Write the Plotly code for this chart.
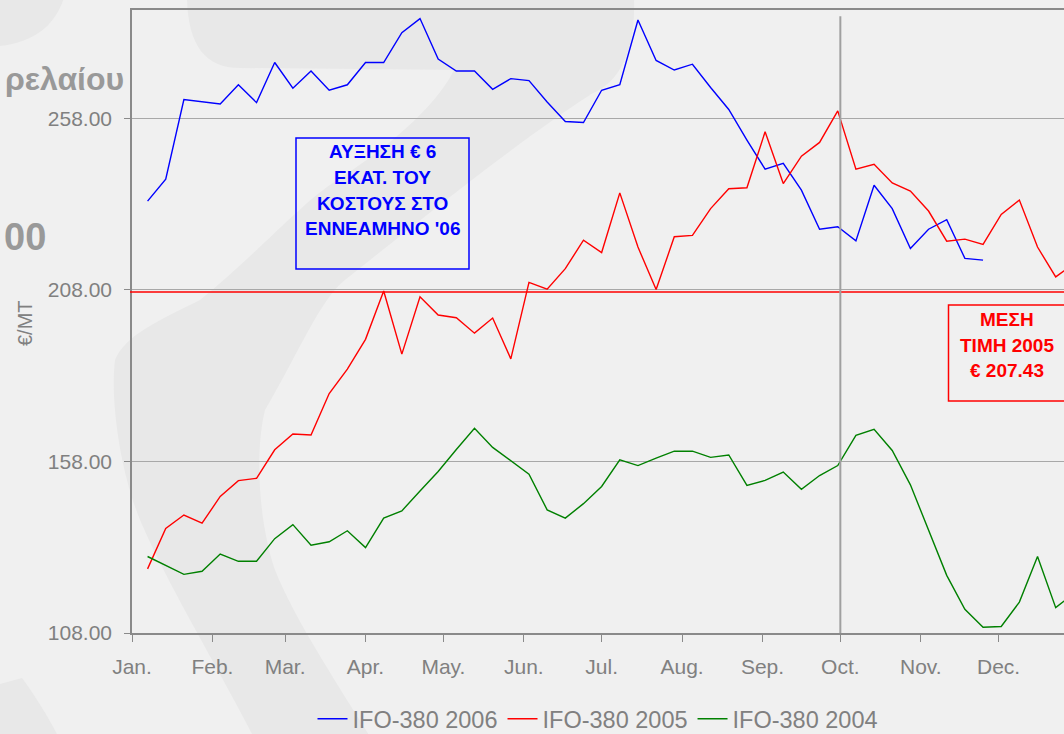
import pandas as pd
import plotly.graph_objects as go

# Weekly IFO-380 bunker prices (€/MT), plotted on a common Jan-Dec axis
weeks = pd.date_range("2006-01-07", periods=52, freq="7D")

ifo_2006 = [233.9, 240.3, 263.5, None, 262.2, 267.8, 262.6, 274.3, 266.8, 271.8,
            266.2, 267.8, 274.3, 274.3, 283.0, 287.1, 275.3, 271.8, 271.8, 266.5,
            269.6, 269.0, 262.8, 257.1, 256.8, 266.2, 267.8, 286.7, 274.9, 272.1,
            273.8, 267.0, 260.6, 251.7, 243.2, 244.9, 237.1, 225.7, 226.4, 222.3,
            238.5, 231.7, 220.1, 225.7, 228.5, 217.2, 216.7]

ifo_2005 = [126.7, 138.5, 142.4, 140.0, 147.8, 152.4, 153.1, 161.4, 166.0, 165.7,
            177.8, 184.9, 193.6, 207.7, 189.3, 206.0, 200.7, 199.9, 195.4, 199.8,
            187.9, 210.2, 208.2, 214.2, 222.5, 218.9, 236.3, 220.5, 208.1, 223.5,
            223.9, 231.7, 237.5, 237.8, 254.1, 239.0, 247.0, 251.0, 260.2, 243.2,
            244.6, 239.2, 236.8, 231.0, 222.2, 222.8, 221.3, 230.0, 234.2, 220.5,
            211.8, 215.7]

ifo_2004 = [130.3, 127.7, 125.1, 126.0, 131.0, 128.9, 128.9, 135.5, 139.6, 133.6,
            134.6, 137.8, 132.9, 141.5, 143.6, 149.4, 155.1, 161.5, 167.7, 162.1,
            158.2, 154.3, 143.9, 141.5, 145.7, 150.7, 158.5, 156.8, 159.0, 161.0,
            161.0, 159.2, 159.9, 151.0, 152.5, 154.9, 149.9, 153.9, 156.8, 165.6,
            167.4, 161.2, 151.2, 138.0, 124.8, 114.9, 109.7, 109.9, 117.0, 130.3,
            115.4, 119.6]

mean_2005 = 207.43

month_starts = pd.date_range("2006-01-01", periods=12, freq="MS")
month_labels = ["Jan.", "Feb.", "Mar.", "Apr.", "May.", "Jun.",
                "Jul.", "Aug.", "Sep.", "Oct.", "Nov.", "Dec."]
y_ticks = [108, 158, 208, 258]

series = [
    ("IFO-380 2006", ifo_2006, "#0000ff"),
    ("IFO-380 2005", ifo_2005, "#ff0000"),
    ("IFO-380 2004", ifo_2004, "#008000"),
]

# ---- layout geometry (pixels) ----
W, H = 1064, 734
L, R, T, B = 132, 1064, 10, 633
X_RANGE = ["2006-01-01", "2006-12-26 04:48"]
Y_RANGE = [108, 289.6]
FONT = "Liberation Sans, Arial, sans-serif"
GREY_TXT = "#808080"
AXIS_GREY = "#8a8a8a"


def px(x):
    return (x - L) / (R - L)


def py(y):
    return (B - y) / (B - T)


def path(cmds):
    out = []
    for c, pts in cmds:
        if c == "Z":
            out.append("Z")
            continue
        out.append(c + " " + " ".join(f"{px(x):.4f},{py(y):.4f}" for x, y in pts))
    return " ".join(out)


fig = go.Figure()
for name, vals, color in series:
    fig.add_trace(go.Scatter(
        x=weeks[:len(vals)], y=vals, name=name, mode="lines",
        line=dict(color=color, width=1.4), connectgaps=True,
    ))

shapes = []
swoosh = "#e8e8e8"
# faint background artwork of the slide
shapes.append(dict(type="path", xref="paper", yref="paper", layer="below",
                   fillcolor=swoosh, line=dict(width=0),
                   path=path([("M", [(0, -2)]), ("L", [(64, -2)]),
                              ("C", [(55, 25), (35, 42), (0, 46)]), ("Z", [])])))
shapes.append(dict(type="path", xref="paper", yref="paper", layer="below",
                   fillcolor=swoosh, line=dict(width=0),
                   path=path([("M", [(187, -2)]), ("L", [(634, -2)]),
                              ("C", [(636, 55), (618, 96), (565, 100)]),
                              ("C", [(530, 102), (500, 80), (470, 70)]),
                              ("L", [(240, 68)]),
                              ("C", [(205, 68), (188, 45), (187, -2)]), ("Z", [])])))
shapes.append(dict(type="path", xref="paper", yref="paper", layer="below",
                   fillcolor=swoosh, line=dict(width=0),
                   path=path([("M", [(455, 68)]), ("L", [(590, 95)]),
                              ("C", [(520, 140), (420, 220), (345, 280)]),
                              ("C", [(320, 300), (300, 350), (265, 410)]),
                              ("C", [(255, 450), (258, 520), (275, 570)]),
                              ("C", [(295, 620), (335, 680), (372, 740)]),
                              ("L", [(255, 740)]),
                              ("C", [(220, 670), (170, 590), (140, 520)]),
                              ("C", [(120, 470), (110, 400), (115, 360)]),
                              ("C", [(125, 335), (160, 320), (200, 300)]),
                              ("C", [(250, 260), (300, 205), (330, 185)]),
                              ("C", [(400, 140), (440, 100), (455, 68)]), ("Z", [])])))
shapes.append(dict(type="path", xref="paper", yref="paper", layer="below",
                   fillcolor=swoosh, line=dict(width=0),
                   path=path([("M", [(0, 684)]), ("L", [(22, 678)]),
                              ("C", [(38, 700), (50, 720), (60, 740)]),
                              ("L", [(0, 740)]), ("Z", [])])))

# 2005 average price line
shapes.append(dict(type="line", xref="paper", yref="y", x0=px(130), x1=1,
                   y0=mean_2005, y1=mean_2005, line=dict(color="#ff0000", width=1.5)))
# October marker
shapes.append(dict(type="line", xref="x", yref="y", x0="2006-10-01", x1="2006-10-01",
                   y0=108, y1=287.8, line=dict(color="#a0a0a0", width=2)))
# callout boxes
shapes.append(dict(type="rect", xref="paper", yref="paper",
                   x0=px(296), x1=px(469), y0=py(269), y1=py(138),
                   line=dict(color="#0000ff", width=1.5)))
shapes.append(dict(type="rect", xref="paper", yref="paper",
                   x0=px(948.5), x1=px(1068), y0=py(401), y1=py(305),
                   line=dict(color="#ff0000", width=1.5)))

annotations = []
blue_lines = ["ΑΥΞΗΣΗ € 6", "ΕΚΑΤ. ΤΟΥ", "ΚΟΣΤΟΥΣ ΣΤΟ", "ΕΝΝΕΑΜΗΝΟ '06"]
for txt, yy in zip(blue_lines, [152, 177.5, 203, 228.5]):
    annotations.append(dict(text=f"<b>{txt}</b>", xref="paper", yref="paper",
                            x=px(382.5), y=py(yy), xanchor="center", yanchor="middle",
                            showarrow=False, font=dict(family=FONT, size=19, color="#0000ff")))
red_lines = ["ΜΕΣΗ", "ΤΙΜΗ 2005", f"€ {mean_2005:.2f}"]
for txt, yy in zip(red_lines, [319.5, 345.5, 370.5]):
    annotations.append(dict(text=f"<b>{txt}</b>", xref="paper", yref="paper",
                            x=px(1007), y=py(yy), xanchor="center", yanchor="middle",
                            showarrow=False, font=dict(family=FONT, size=19, color="#ff0000")))
# slide text behind the chart
annotations.append(dict(text="<b>ρελαίου</b>", xref="paper", yref="paper",
                        x=px(126), y=py(79), xanchor="right", yanchor="middle",
                        showarrow=False, font=dict(family=FONT, size=32, color="#999999")))
annotations.append(dict(text="<b>00</b>", xref="paper", yref="paper",
                        x=px(2), y=py(237), xanchor="left", yanchor="middle",
                        showarrow=False, font=dict(family=FONT, size=38, color="#999999")))
# y axis title
annotations.append(dict(text="€/MT", xref="paper", yref="paper",
                        x=px(25), y=py(323), xanchor="center", yanchor="middle",
                        textangle=-90, showarrow=False,
                        font=dict(family=FONT, size=20, color=GREY_TXT)))

fig.update_layout(
    width=W, height=H,
    margin=dict(l=L, r=W - R, t=T, b=H - B, pad=0, autoexpand=False),
    paper_bgcolor="#f0f0f0", plot_bgcolor="rgba(0,0,0,0)",
    font=dict(family=FONT, color=GREY_TXT),
    showlegend=True,
    legend=dict(orientation="h", x=0.5, xanchor="center", y=py(697), yanchor="top",
                font=dict(family=FONT, size=23.5, color=GREY_TXT),
                bgcolor="rgba(0,0,0,0)", itemwidth=30),
    xaxis=dict(type="date", range=X_RANGE, tickmode="array",
               tickvals=month_starts, ticktext=month_labels,
               showgrid=False, zeroline=False,
               showline=True, linecolor=AXIS_GREY, linewidth=1.5, mirror=True,
               ticks="outside", ticklen=7, tickwidth=1.3, tickcolor=AXIS_GREY,
               ticklabelstandoff=7,
               tickfont=dict(family=FONT, size=21, color=GREY_TXT)),
    xaxis2=dict(type="date", range=X_RANGE, overlaying="x", anchor="y", side="bottom",
                tickmode="array", tickvals=month_starts, showticklabels=False,
                showgrid=False, zeroline=False, showline=False,
                ticks="inside", ticklen=7, tickwidth=1.3, tickcolor=AXIS_GREY),
    yaxis=dict(range=Y_RANGE, tickmode="array", tickvals=y_ticks, tickformat=".2f",
               showgrid=True, gridcolor="#a8a8a8", gridwidth=1.3, zeroline=False,
               showline=True, linecolor=AXIS_GREY, linewidth=1.5,
               ticks="outside", ticklen=6, tickwidth=1.3, tickcolor=AXIS_GREY,
               ticklabelstandoff=8,
               tickfont=dict(family=FONT, size=21, color=GREY_TXT)),
    shapes=shapes,
    annotations=annotations,
)

fig.write_html("out.html")
